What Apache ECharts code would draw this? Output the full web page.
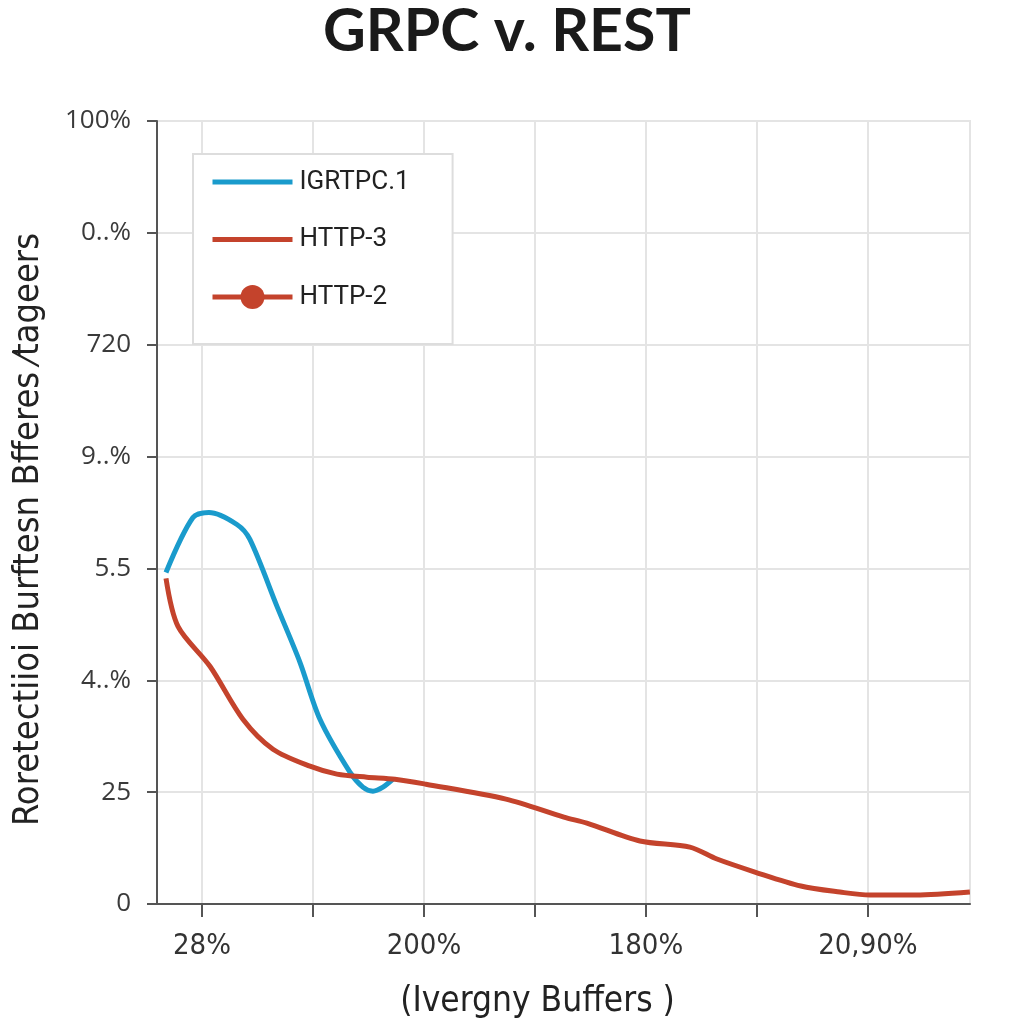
<!DOCTYPE html>
<html>
<head>
<meta charset="utf-8">
<script src="https://cdn.jsdelivr.net/npm/echarts@6/dist/echarts.min.js"></script>
<style>
html,body{margin:0;padding:0;background:#fff;}
#chart{width:1024px;height:1024px;}
</style>
</head>
<body>
<div id="chart"></div>
<script>
// Y tick labels (bottom to top)
const yTickLabels = ['0', '25', '4..%', '5.5', '9..%', '720', '0..%', '100%'];
// X tick positions and labels
const xTickValues = [0, 1, 2, 3, 4, 5, 6];
const xLabelValues = [0, 2, 4, 6];
const xTickLabels = { 0: '28%', 2: '200%', 4: '180%', 6: '20,90%' };

const seriesNames = ['IGRTPC.1', 'HTTP-3', 'HTTP-2'];

// IGRTPC.1 points [x, y]
const grpcX = [-0.324, -0.081, 0.063, 0.315, 0.432, 0.676, 0.883, 1.063, 1.333, 1.450, 1.541, 1.631, 1.721];
const grpcY = [2.964, 3.455, 3.500, 3.393, 3.259, 2.661, 2.161, 1.652, 1.179, 1.045, 1.009, 1.045, 1.116];

// HTTP-3 points [x, y]
const http3X = [-0.324, -0.216, 0.072, 0.369, 0.640, 0.973, 1.216, 1.486, 1.739, 2.018, 2.739, 3.261, 3.468, 3.946, 4.396, 4.640, 4.982, 5.396, 5.748, 6.018, 6.432, 6.919];
const http3Y = [2.911, 2.482, 2.125, 1.652, 1.384, 1.232, 1.161, 1.134, 1.116, 1.071, 0.938, 0.777, 0.723, 0.563, 0.509, 0.402, 0.286, 0.161, 0.107, 0.080, 0.080, 0.107];

// HTTP-2 (legend only, no visible points)
const http2X = [];
const http2Y = [];

const zip = (xs, ys) => xs.map((x, i) => [x, ys[i]]);

const narrow = "'DejaVu Sans Condensed', 'Roboto'";
const lineIcon = 'path://M0,0L80,0L80,5L0,5Z';

const chart = echarts.init(document.getElementById('chart'), null, { renderer: 'canvas' });

const option = {
  backgroundColor: '#ffffff',
  animation: false,
  title: {
    text: 'GRPC v. REST',
    left: 318,
    top: -3,
    textStyle: { fontFamily: 'Lato', fontWeight: 'bold', fontSize: 59, color: '#1a1a1a' }
  },
  legend: {
    orient: 'vertical',
    left: 193,
    top: 154,
    padding: [15, 43, 34, 17],
    itemWidth: 80,
    itemHeight: 30,
    itemGap: 31.5,
    backgroundColor: '#ffffff',
    borderColor: '#dddddd',
    borderWidth: 2,
    textStyle: { fontFamily: 'Roboto', fontSize: 26, color: '#222', padding: [0, 0, 0, 2] },
    data: [
      { name: seriesNames[0], icon: lineIcon },
      { name: seriesNames[1], icon: lineIcon },
      { name: seriesNames[2], lineStyle: { width: 5, color: '#c4432c' } }
    ]
  },
  grid: {
    left: 157, right: 54, top: 121, bottom: 119,
    show: true, borderColor: '#e4e4e4', borderWidth: 2, backgroundColor: 'transparent'
  },
  xAxis: {
    type: 'value',
    min: -0.405,
    max: 6.92,
    name: '(Ivergny Buffers )',
    nameLocation: 'middle',
    nameGap: 80,
    nameTextStyle: { fontFamily: narrow, fontSize: 35, color: '#222', padding: [0, 52, 0, 0] },
    axisLine: { show: true, onZero: false, lineStyle: { color: '#555', width: 2 } },
    axisTick: { show: true, customValues: xTickValues, length: 13, lineStyle: { color: '#555', width: 2 } },
    axisLabel: {
      customValues: xLabelValues,
      formatter: v => xTickLabels[Math.round(v)] || '',
      margin: 28,
      fontFamily: narrow, fontSize: 29, color: '#333'
    },
    splitLine: { show: true, customValues: xTickValues, lineStyle: { color: '#e4e4e4', width: 2 } }
  },
  yAxis: {
    type: 'value',
    min: 0,
    max: 7,
    interval: 1,
    name: 'Roretectiioi Burftesn Bfferes \u2044tageers',
    nameLocation: 'middle',
    nameGap: 110,
    nameRotate: 90,
    nameTextStyle: { fontFamily: narrow, fontSize: 36, color: '#222', padding: [0, 34, 0, 0] },
    axisLine: { show: true, onZero: false, lineStyle: { color: '#555', width: 2 } },
    axisTick: { show: true, length: 10, lineStyle: { color: '#555', width: 2 } },
    axisLabel: {
      formatter: v => yTickLabels[Math.round(v)] || '',
      margin: 26,
      fontFamily: 'Open Sans', fontSize: 26, color: '#3a3a3a'
    },
    splitLine: { show: true, lineStyle: { color: '#e4e4e4', width: 2 } }
  },
  series: [
    {
      name: seriesNames[0], type: 'line', smooth: 0.3, symbol: 'none',
      data: zip(grpcX, grpcY),
      lineStyle: { color: '#1a9bcc', width: 5 }, itemStyle: { color: '#1a9bcc' }
    },
    {
      name: seriesNames[1], type: 'line', smooth: 0.3, symbol: 'none',
      data: zip(http3X, http3Y),
      lineStyle: { color: '#c4432c', width: 5 }, itemStyle: { color: '#c4432c' }
    },
    {
      name: seriesNames[2], type: 'line', symbol: 'circle', symbolSize: 22,
      data: zip(http2X, http2Y),
      lineStyle: { color: '#c4432c', width: 5 }, itemStyle: { color: '#c4432c' }
    }
  ]
};
chart.setOption(option);
</script>
</body>
</html>
